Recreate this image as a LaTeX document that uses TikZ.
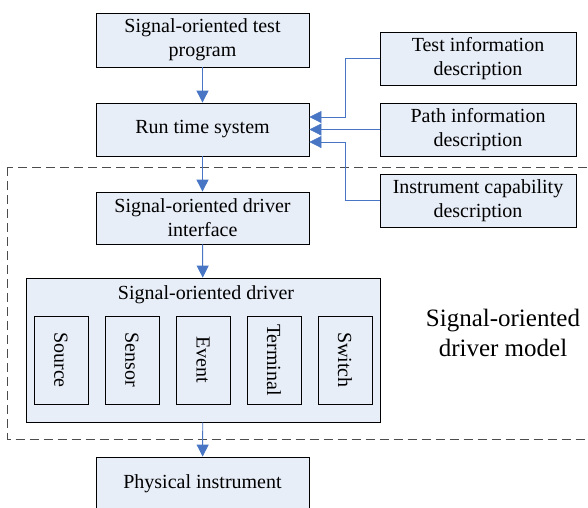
\documentclass[tikz,border=0pt]{standalone}
\usepackage{fontspec}
\setmainfont{Liberation Serif}
\usetikzlibrary{arrows.meta,calc}
\definecolor{boxfill}{RGB}{232,238,248}
\definecolor{linkblue}{RGB}{72,118,196}
\tikzset{
  box/.style={draw=black, fill=boxfill, line width=0.8pt, inner sep=0pt,
    align=center, font=\fontsize{20}{24}\selectfont},
  vbox/.style={box, minimum width=54pt, minimum height=88pt},
  link/.style={draw=linkblue, line width=0.9pt,
    -{Triangle[length=12pt,width=12pt]}},
  feed/.style={draw=linkblue, line width=0.7pt,
    -{Triangle[length=12pt,width=12pt]}},
  region/.style={draw=black!70, dashed, dash pattern=on 9pt off 5pt, line width=0.8pt}
}
\begin{document}
\begin{tikzpicture}[x=1pt,y=-1pt]
\useasboundingbox (0,0) rectangle (588,507);
\clip (0,0) rectangle (588,507);

% dashed region of the driver model
\draw[region] (7.5,167) rectangle (620,439);

% main chain
\node[box, minimum width=213pt, minimum height=54pt] (prog) at (202.5,40) {Signal-oriented test\\program};
\node[box, minimum width=213pt, minimum height=53pt] (rts) at (202.5,129.5) {Run time system};
\node[box, minimum width=213pt, minimum height=52pt] (intf) at (202.5,218) {Signal-oriented driver\\interface};
\node[box, minimum width=354pt, minimum height=144pt] (drv) at (203,350) {};
\node[font=\fontsize{20}{24}\selectfont] (drvtitle) at (206,295) {Signal-oriented driver};
\node[box, minimum width=213pt, minimum height=53pt] (phys) at (202.5,483.5) {Physical instrument};

% driver components
\foreach \name/\lbl/\x in {src/Source/61, sens/Sensor/132, evt/Event/203, term/Terminal/274, sw/Switch/345}
  \node[vbox] (\name) at (\x,360) {\rotatebox{-90}{\lbl}};

% description boxes
\node[box, minimum width=196pt, minimum height=53pt] (tid) at (478,58.5) {Test information\\description};
\node[box, minimum width=196pt, minimum height=53pt] (pid) at (478,129.5) {Path information\\description};
\node[box, minimum width=196pt, minimum height=53pt] (icd) at (478,200.5) {Instrument capability\\description};

% model label
\node[font=\fontsize{25}{30}\selectfont, align=center] (model) at (503,333) {Signal-oriented\\driver model};

% connectors
\draw[link] (prog) -- (rts);
\draw[link] (rts) -- (intf);
\draw[link] (intf) -- (drv);
\draw[link] (drv) -- (phys);
\coordinate (tin) at ($(rts.east)+(0,-12.5)$);
\coordinate (iin) at ($(rts.east)+(0,12.5)$);
\draw[feed] (tid.west) -| (345,58.5) |- (tin);
\draw[feed] (pid.west) -- (rts.east);
\draw[feed] (icd.west) -| (345,200.5) |- (iin);
\end{tikzpicture}
\end{document}
